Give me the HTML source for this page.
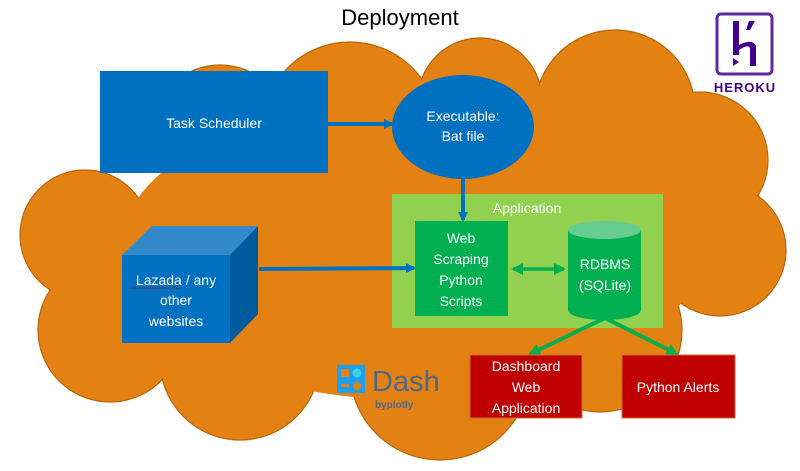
<!DOCTYPE html>
<html><head><meta charset="utf-8"><style>
html,body{margin:0;padding:0;background:#fff;}
svg{display:block;}
text{font-family:"Liberation Sans",sans-serif;}
</style></head><body>
<svg width="800" height="471" viewBox="0 0 800 471" xmlns="http://www.w3.org/2000/svg">
<defs>
<marker id="ab" markerWidth="10" markerHeight="10" refX="8" refY="5" orient="auto" markerUnits="userSpaceOnUse"><path d="M0,0 L10,5 L0,10 z" fill="#0070C0"/></marker>
<marker id="ag" markerWidth="12" markerHeight="12" refX="10" refY="6" orient="auto-start-reverse" markerUnits="userSpaceOnUse"><path d="M0,0 L12,6 L0,12 z" fill="#00B050"/></marker>
</defs>
<text x="400" y="25" text-anchor="middle" font-size="22" fill="#000">Deployment</text>
<g fill="#E38212" stroke="#B8650C" stroke-width="1.2">
<circle cx="220" cy="135" r="70"/>
<circle cx="350" cy="130" r="88"/>
<circle cx="480" cy="100" r="62"/>
<circle cx="615" cy="110" r="80"/>
<circle cx="700" cy="160" r="68"/>
<circle cx="720" cy="250" r="66"/>
<circle cx="600" cy="330" r="82"/>
<circle cx="440" cy="370" r="90"/>
<circle cx="240" cy="360" r="80"/>
<circle cx="110" cy="330" r="72"/>
<circle cx="85" cy="235" r="65"/>
</g>
<g fill="#E38212">
<circle cx="220" cy="135" r="69"/>
<circle cx="350" cy="130" r="87"/>
<circle cx="480" cy="100" r="61"/>
<circle cx="615" cy="110" r="79"/>
<circle cx="700" cy="160" r="67"/>
<circle cx="720" cy="250" r="65"/>
<circle cx="600" cy="330" r="81"/>
<circle cx="440" cy="370" r="89"/>
<circle cx="240" cy="360" r="79"/>
<circle cx="110" cy="330" r="71"/>
<circle cx="85" cy="235" r="64"/>
<ellipse cx="410" cy="250" rx="290" ry="150"/>
</g>
<!-- Heroku -->
<rect x="717" y="14" width="55" height="60" rx="4" fill="#fff" stroke="#5B2B9E" stroke-width="3"/>
<path d="M733 21 L739 21 L739 45 Q752 38 756 46 L756 66 L750 66 L750 48 Q748 44 739 50 L739 55 L733 55 Z" fill="#43008E"/>
<path d="M749 21 L755 21 L750 30 L746 30 Z" fill="#43008E"/>
<path d="M733 58 L739 62 L733 66 Z" fill="#43008E"/>
<text x="745" y="92" text-anchor="middle" font-size="13" font-weight="bold" fill="#43008E" letter-spacing="1">HEROKU</text>
<!-- Task scheduler -->
<rect x="100" y="71" width="228" height="102" fill="#0070C0"/>
<text x="214" y="128" text-anchor="middle" font-size="14" fill="#fff">Task Scheduler</text>
<line x1="328" y1="124" x2="392" y2="124" stroke="#0070C0" stroke-width="4" marker-end="url(#ab)"/>
<ellipse cx="463" cy="127" rx="71" ry="52" fill="#0070C0"/>
<text x="463" y="121" text-anchor="middle" font-size="14" fill="#fff">Executable:</text>
<text x="463" y="141" text-anchor="middle" font-size="14" fill="#fff">Bat file</text>
<!-- Application -->
<rect x="392" y="194" width="271" height="134" fill="#92D050"/>
<text x="527" y="213" text-anchor="middle" font-size="14" fill="#fff">Application</text>
<rect x="415" y="221" width="93" height="95" fill="#00B050"/>
<line x1="463" y1="179" x2="463" y2="220" stroke="#0070C0" stroke-width="4" marker-end="url(#ab)"/>
<g font-size="14" fill="#fff" text-anchor="middle">
<text x="461" y="243">Web</text><text x="461" y="264">Scraping</text><text x="461" y="285">Python</text><text x="461" y="306">Scripts</text>
</g>
<path d="M568 230 L568 310 A36.5 10 0 0 0 641 310 L641 230 Z" fill="#00B050"/>
<ellipse cx="604.5" cy="230" rx="36.5" ry="9" fill="#66CC8F"/>
<text x="605" y="269" text-anchor="middle" font-size="14" fill="#fff">RDBMS</text>
<text x="605" y="290" text-anchor="middle" font-size="14" fill="#fff">(SQLite)</text>
<line x1="513" y1="269" x2="564" y2="269" stroke="#00B050" stroke-width="3.5" marker-start="url(#ag)" marker-end="url(#ag)"/>
<line x1="605" y1="318" x2="530" y2="354" stroke="#00B050" stroke-width="4" marker-end="url(#ag)"/>
<line x1="605" y1="318" x2="677" y2="354" stroke="#00B050" stroke-width="4" marker-end="url(#ag)"/>
<!-- cube -->
<polygon points="122,255 152,226 258,226 230,255" fill="#3389CA"/>
<polygon points="230,255 258,226 258,314 230,343" fill="#005A9E"/>
<rect x="122" y="255" width="108" height="88" fill="#0070C0"/>
<g font-size="14" fill="#fff" text-anchor="middle">
<text x="176" y="285">Lazada / any</text><text x="176" y="305">other</text><text x="176" y="326">websites</text>
</g>
<line x1="131" y1="288" x2="180" y2="288" stroke="#C00000" stroke-width="0.8" stroke-dasharray="2,1"/>
<line x1="259" y1="269" x2="414" y2="268" stroke="#0070C0" stroke-width="4" marker-end="url(#ab)"/>
<!-- red boxes -->
<rect x="470" y="355" width="112" height="63" fill="#C00000" stroke="#D0663A" stroke-width="1"/>
<g font-size="14" fill="#fff" text-anchor="middle">
<text x="526" y="371">Dashboard</text><text x="526" y="392">Web</text><text x="526" y="413">Application</text>
</g>
<rect x="622" y="355" width="113" height="63" fill="#C00000" stroke="#D0663A" stroke-width="1"/>
<text x="678" y="392" text-anchor="middle" font-size="14" fill="#fff">Python Alerts</text>
<!-- Dash -->
<rect x="337" y="365" width="28" height="28" fill="#1EA0F0"/>
<rect x="341" y="369" width="8" height="8" fill="#E38212"/>
<circle cx="357" cy="373" r="4.5" fill="#3CD0E8"/>
<rect x="341" y="384" width="8" height="3" fill="#E38212"/>
<circle cx="357" cy="386" r="4" fill="#E38212"/>
<text x="372" y="391" font-size="29" fill="#506784">Dash</text>
<text x="375" y="408" font-size="10" font-weight="bold" fill="#506784">byplotly</text>
</svg>
</body></html>
